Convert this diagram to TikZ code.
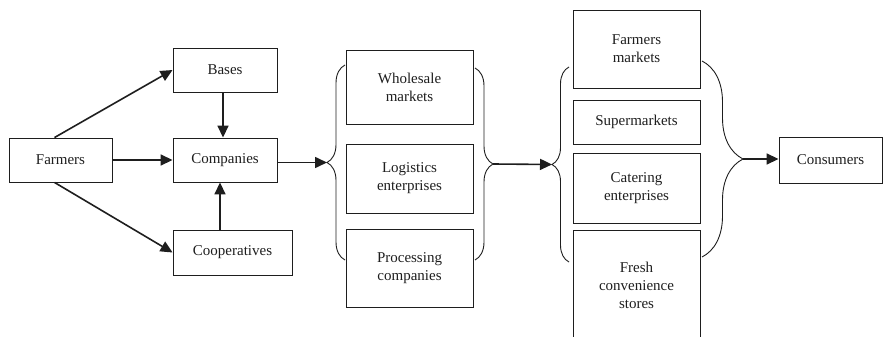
\documentclass[tikz,border=0pt]{standalone}
\usepackage{fontspec}
\setmainfont{Liberation Serif}
\usepackage{tikz}
\usetikzlibrary{arrows.meta,positioning,calc,decorations.pathreplacing}
\definecolor{ink}{HTML}{1E1E1E}
\tikzset{
  box/.style={draw=ink, text=ink, line width=0.9pt, minimum width=104pt,
    minimum height=44pt, align=center, inner sep=2pt},
  flow/.style={-{Triangle[length=12pt,width=11pt]}, ink, line width=1.6pt},
  curly/.style={ink, line width=0.9pt, decorate, decoration={brace, amplitude=#1}},
}
\begin{document}
\begin{tikzpicture}[x=1pt, y=-1pt, font=\fontsize{15}{18}\selectfont]
\useasboundingbox (0,0) rectangle (883,337);
\clip (0,0) rectangle (883,337);
% producers
\node[box, minimum width=103pt] (farmers) at (60.5,160) {Farmers};
\node[box] (bases) at (225,70) {Bases};
\node[box] (companies) at (225,160) {Companies};
\node[box, minimum width=119pt, minimum height=45pt] (coops) at (232.5,252.5) {Cooperatives};
% intermediaries
\node[box, minimum width=127pt, minimum height=74pt] (wholesale) at (409.5,87) {Wholesale\\markets};
\node[box, minimum width=127pt, minimum height=69pt] (logistics) at (409.5,178.5) {Logistics\\enterprises};
\node[box, minimum width=127pt, minimum height=78pt] (processing) at (409.5,268) {Processing\\companies};
% retail
\node[box, minimum width=127pt, minimum height=78pt] (fmarkets) at (636.5,49) {Farmers\\markets};
\node[box, minimum width=127pt, minimum height=44pt] (supermarkets) at (636.5,122) {Supermarkets};
\node[box, minimum width=127pt, minimum height=70pt] (catering) at (636.5,188) {Catering\\enterprises};
\node[box, minimum width=127pt, minimum height=110pt] (fresh) at (636.5,285) {Fresh\\convenience\\stores};
\node[box, minimum width=103pt, minimum height=46pt] (consumers) at (830.5,160) {Consumers};
% braces
\draw[curly=18pt] (345,260) -- (345,65);
\coordinate (tipA) at (327,162.5);
\draw[curly=18pt] (475,68) -- (475,260);
\coordinate (tipB) at (493,164);
\draw[curly=17pt] (569,262) -- (569,67);
\coordinate (tipC) at (552,164.5);
\draw[curly=41pt] (702,61) -- (702,257);
\coordinate (tipD) at (743,159);
% flows
\draw[flow] ([xshift=-6pt]farmers.north) -- (bases.west);
\draw[flow] (farmers.east) -- (companies.west);
\draw[flow] ([xshift=-6pt]farmers.south) -- (coops.west);
\draw[flow] ([xshift=-2pt]bases.south) -- ([xshift=-2pt]companies.north);
\draw[flow] ([xshift=-5pt]coops.north -| companies.south) -- ([xshift=-5pt]companies.south);
\draw[flow] (companies.east |- tipA) -- (tipA);
\draw[flow] (tipB) -- (tipC);
\draw[flow] (tipD) -- (consumers.west |- tipD);
\end{tikzpicture}
\end{document}
